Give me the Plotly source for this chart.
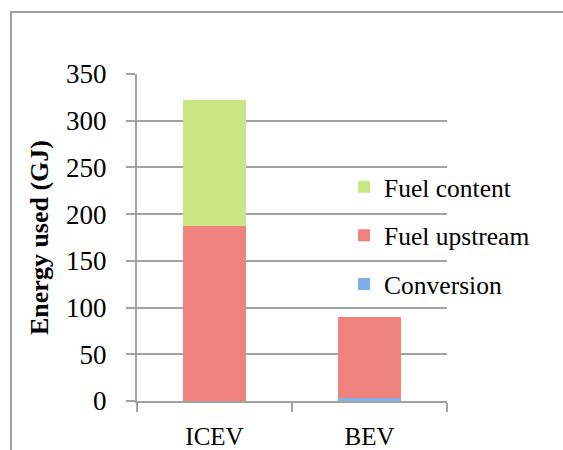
import plotly.graph_objects as go

categories = ["ICEV", "BEV"]
conversion = [0, 3]
fuel_upstream = [187, 87]
fuel_content = [135, 0]
y_ticks = [0, 50, 100, 150, 200, 250, 300, 350]

FONT = "Liberation Serif"
GRID = "#a2a2a2"

fig = go.Figure()
fig.add_trace(go.Bar(name="Conversion", x=categories, y=conversion, legendrank=3,
                     marker=dict(color="#7eaeec", line=dict(width=0)), legendgroup="a"))
fig.add_trace(go.Bar(name="Fuel upstream", x=categories, y=fuel_upstream, legendrank=2,
                     marker=dict(color="#ee837d", line=dict(width=0)), legendgroup="b"))
fig.add_trace(go.Bar(name="Fuel content", x=categories, y=fuel_content, legendrank=1,
                     marker=dict(color="#c8e784", line=dict(width=0)), legendgroup="c"))

fig.update_layout(
    width=563, height=450,
    barmode="stack", bargap=0.592,
    paper_bgcolor="white", plot_bgcolor="white",
    margin=dict(l=137, r=116, t=74, b=49, autoexpand=False),
    font=dict(family=FONT, color="black", size=25),
    showlegend=True,
    legend=dict(x=0.668, y=0.726, xanchor="left", yanchor="top",
                bgcolor="rgba(0,0,0,0)", font=dict(size=25.5, family=FONT),
                traceorder="grouped", tracegroupgap=12.5,
                itemwidth=30),
    xaxis=dict(type="category", showline=True, linecolor=GRID, linewidth=2,
               ticks="outside", tickson="boundaries", ticklen=9, tickcolor=GRID,
               tickwidth=2, showgrid=False, tickfont=dict(size=25, family=FONT),
               ticklabelstandoff=12),
    yaxis=dict(range=[0, 350], tickvals=y_ticks, showline=True, linecolor=GRID,
               linewidth=2, ticks="outside", ticklen=9, tickcolor=GRID, tickwidth=2,
               showgrid=True, gridcolor=GRID, gridwidth=2, zeroline=False,
               tickfont=dict(size=27, family=FONT), ticklabelstandoff=14,
               title=dict(text="<b>Energy used (GJ)</b>", standoff=10,
                          font=dict(size=26, family=FONT))),
)

fig.add_shape(type="rect", xref="paper", yref="paper",
              x0=-0.4066, x1=1.45, y0=-0.25, y1=1.1898,
              line=dict(color="#a0a0a0", width=2), fillcolor="rgba(0,0,0,0)",
              layer="below")

fig.write_html("out.html", config={"displayModeBar": False},
               post_script="document.body.style.margin='0px';document.body.style.overflow='hidden';")
